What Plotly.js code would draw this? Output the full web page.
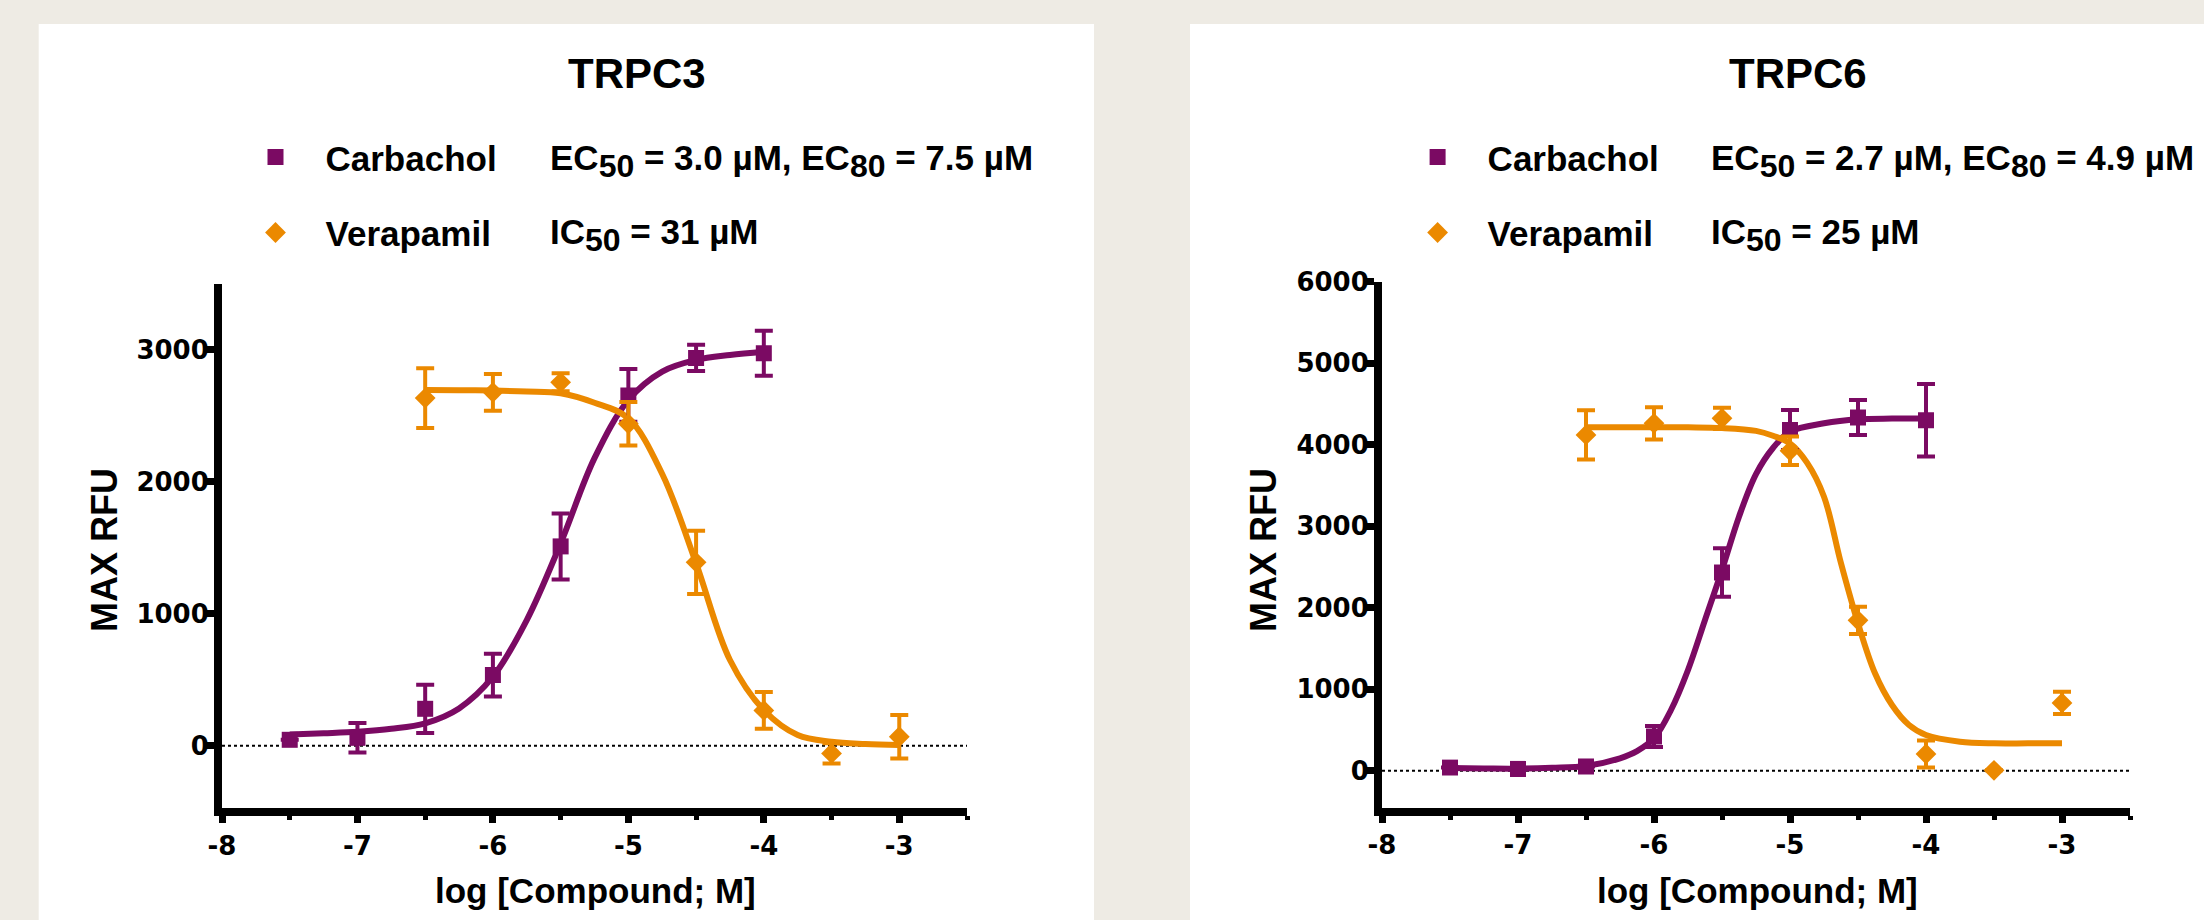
<!DOCTYPE html>
<html><head><meta charset="utf-8">
<script src="https://cdn.plot.ly/plotly-3.0.1.min.js"></script>
<style>html,body{margin:0;padding:0;background:#EEEBE4;} #chart{width:2204px;height:920px;}</style>
</head><body><div id="chart"></div>
<script>
// ---------------- DATA ----------------
const doseCarb = [-7.5, -7, -6.5, -6, -5.5, -5, -4.5, -4];
const doseVera = [-6.5, -6, -5.5, -5, -4.5, -4, -3.5, -3];

// TRPC3
const trpc3Carb    = [45, 60, 280, 536, 1511, 2655, 2940, 2975];
const trpc3CarbErr = [null, 112, 183, 162, 250, 200, 100, 170];
const trpc3Vera    = [2635, 2679, 2755, 2440, 1390, 268, -58, 68];
const trpc3VeraErr = [227, 139, 68, 165, 240, 139, 76, 165];

// TRPC3 fitted curves
const trpc3CarbFitX = [-7.5, -7.25, -7, -6.75, -6.5, -6.25, -6, -5.75, -5.5, -5.25, -5, -4.75, -4.5, -4.25, -4];
const trpc3CarbFitY = [86, 95, 106, 128, 170, 283, 523, 953, 1534, 2180, 2620, 2836, 2924, 2962, 2987];
const trpc3VeraFitX = [-6.5, -6.25, -6, -5.75, -5.5, -5.25, -5, -4.75, -4.5, -4.25, -4, -3.75, -3.5, -3.25, -3];
const trpc3VeraFitY = [2697, 2695, 2692, 2685, 2672, 2600, 2482, 2060, 1383, 650, 270, 81, 30, 13, 5];

// TRPC6
const trpc6Carb    = [38, 22, 52, 420, 2432, 4180, 4334, 4300];
const trpc6CarbErr = [null, null, null, 130, 297, 245, 215, 446];
const trpc6Vera    = [4120, 4262, 4324, 3925, 1845, 205, 5, 832];
const trpc6VeraErr = [302, 197, 130, 175, 168, 165, null, 137];

// TRPC6 fitted curves
const trpc6CarbFitX = [-7.5, -7.25, -7, -6.75, -6.5, -6.25, -6.125, -6, -5.875, -5.75, -5.625, -5.5, -5.375, -5.25, -5.125, -5, -4.75, -4.5, -4.25, -4];
const trpc6CarbFitY = [33, 28, 25, 35, 58, 152, 240, 397, 745, 1236, 1849, 2463, 3117, 3640, 3960, 4160, 4263, 4312, 4320, 4320];
const trpc6VeraFitX = [-6.5, -6.25, -6, -5.75, -5.5, -5.25, -5.125, -5, -4.875, -4.75, -4.625, -4.5, -4.375, -4.25, -4.125, -4, -3.75, -3.5, -3.25, -3];
const trpc6VeraFitY = [4215, 4215, 4215, 4213, 4205, 4170, 4110, 4017, 3780, 3362, 2545, 1808, 1195, 806, 561, 438, 356, 336, 336, 336];

// Axis ticks
const xTickVals = [-8, -7, -6, -5, -4, -3];
const xTickText = ['-8', '-7', '-6', '-5', '-4', '-3'];
const xMinorVals = [-7.5, -6.5, -5.5, -4.5, -3.5, -2.5];
const y3TickVals = [0, 1000, 2000, 3000];
const y3TickText = ['0', '1000', '2000', '3000'];
const y6TickVals = [0, 1000, 2000, 3000, 4000, 5000, 6000];
const y6TickText = ['0', '1000', '2000', '3000', '4000', '5000', '6000'];

// Texts
const titles = ['TRPC3', 'TRPC6'];
const seriesNames = ['Carbachol', 'Verapamil'];
const SUB = t => '<sub><span style="font-size:32px">' + t + '</span></sub>';
const potency3 = ['EC' + SUB('50') + ' = 3.0 µM, EC' + SUB('80') + ' = 7.5 µM', 'IC' + SUB('50') + ' = 31 µM'];
const potency6 = ['EC' + SUB('50') + ' = 2.7 µM, EC' + SUB('80') + ' = 4.9 µM', 'IC' + SUB('50') + ' = 25 µM'];
const xTitle = 'log [Compound; M]';
const yTitle = 'MAX RFU';

// ---------------- STYLE ----------------
const W = 2204, H = 920;
const PURPLE = '#7B0A63', ORANGE = '#EB8900';
const px = v => v / W, py = v => 1 - v / H;
const FONT = 'Liberation Sans, Arial, Helvetica, sans-serif';
const TICKFONT = {family: 'DejaVu Sans, Verdana, sans-serif', size: 26, color: '#000', weight: 'bold'};

function curve(x, y, color, xa, ya) {
  return {x: x, y: y, xaxis: xa, yaxis: ya, type: 'scatter', mode: 'lines',
          line: {color: color, width: 6, shape: 'spline', smoothing: 1},
          showlegend: false, hoverinfo: 'skip'};
}
function pts(x, y, err, color, symbol, name, xa, ya, leg, grp) {
  return {x: x, y: y, xaxis: xa, yaxis: ya, type: 'scatter', mode: 'markers', name: name,
          marker: {symbol: symbol, size: 16, color: color, line: {width: 0}},
          error_y: {type: 'data', array: err, visible: true, thickness: 4, width: 9, color: color},
          legend: leg, legendgroup: grp, showlegend: true};
}

const data = [
  curve(trpc3CarbFitX, trpc3CarbFitY, PURPLE, 'x', 'y'),
  curve(trpc3VeraFitX, trpc3VeraFitY, ORANGE, 'x', 'y'),
  pts(doseCarb, trpc3Carb, trpc3CarbErr, PURPLE, 'square', seriesNames[0], 'x', 'y', 'legend', 'a'),
  pts(doseVera, trpc3Vera, trpc3VeraErr, ORANGE, 'diamond', seriesNames[1], 'x', 'y', 'legend', 'b'),
  curve(trpc6CarbFitX, trpc6CarbFitY, PURPLE, 'x2', 'y2'),
  curve(trpc6VeraFitX, trpc6VeraFitY, ORANGE, 'x2', 'y2'),
  pts(doseCarb, trpc6Carb, trpc6CarbErr, PURPLE, 'square', seriesNames[0], 'x2', 'y2', 'legend2', 'c'),
  pts(doseVera, trpc6Vera, trpc6VeraErr, ORANGE, 'diamond', seriesNames[1], 'x2', 'y2', 'legend2', 'd')
];

const axX = {range: [-8, -2.5], showgrid: false, zeroline: false, showline: true, linewidth: 8, linecolor: '#000',
  ticks: 'outside', ticklen: 7, tickwidth: 7, tickcolor: '#000', tickmode: 'array',
  tickvals: xTickVals, ticktext: xTickText, tickfont: TICKFONT,
  minor: {tickmode: 'array', tickvals: xMinorVals, ticks: 'outside', ticklen: 4, tickwidth: 5, tickcolor: '#000'},
  fixedrange: true};
const axY = {showgrid: false, zeroline: false, showline: true, linewidth: 8, linecolor: '#000',
  ticks: 'outside', ticklen: 8, tickwidth: 7, tickcolor: '#000', tickmode: 'array', tickfont: TICKFONT,
  ticklabelstandoff: -8, fixedrange: true};

const legBase = {orientation: 'v', xanchor: 'left', yanchor: 'top', bgcolor: 'rgba(0,0,0,0)', borderwidth: 0,
  font: {family: FONT, size: 35, color: '#000', weight: 'bold'}, itemwidth: 90, traceorder: 'grouped',
  tracegroupgap: 27, itemclick: false, itemdoubleclick: false};

const txt = (t, x, y, size, extra) => Object.assign({text: t, xref: 'paper', yref: 'paper', x: px(x), y: py(y),
  showarrow: false, font: {family: FONT, size: size, color: '#000', weight: 'bold'}}, extra || {});

const layout = {
  width: W, height: H, margin: {l: 0, r: 0, t: 0, b: 0, pad: 0},
  paper_bgcolor: '#EEEBE4', plot_bgcolor: 'rgba(0,0,0,0)',
  font: {family: FONT, color: '#000'},
  showlegend: true,
  xaxis: Object.assign({}, axX, {domain: [px(222), px(967)], anchor: 'y'}),
  yaxis: Object.assign({}, axY, {domain: [1 - 808.4 / H, 1 - 284 / H], anchor: 'x', range: [-475, 3500],
    tickvals: y3TickVals, ticktext: y3TickText}),
  xaxis2: Object.assign({}, axX, {domain: [px(1382), px(2130)], anchor: 'y2'}),
  yaxis2: Object.assign({}, axY, {domain: [1 - 807.8 / H, 1 - 281.7 / H], anchor: 'x2', range: [-455, 6000],
    tickvals: y6TickVals, ticktext: y6TickText}),
  legend: Object.assign({}, legBase, {x: px(225.5), y: py(127.75)}),
  legend2: Object.assign({}, legBase, {x: px(1387.6), y: py(127.75)}),
  shapes: [
    {type: 'rect', xref: 'paper', yref: 'paper', x0: px(38.7), x1: px(1094), y0: 0, y1: py(24),
     fillcolor: '#FFFFFF', line: {width: 0}, layer: 'below'},
    {type: 'rect', xref: 'paper', yref: 'paper', x0: px(1190), x1: 1, y0: 0, y1: py(24),
     fillcolor: '#FFFFFF', line: {width: 0}, layer: 'below'},
    {type: 'line', xref: 'x domain', yref: 'y', x0: 0, x1: 1, y0: 0, y1: 0,
     line: {color: '#000', width: 2, dash: 'dot'}, layer: 'below'},
    {type: 'line', xref: 'x2 domain', yref: 'y2', x0: 0, x1: 1, y0: 0, y1: 0,
     line: {color: '#000', width: 2, dash: 'dot'}, layer: 'below'}
  ],
  annotations: [
    txt(titles[0], 637, 73.5, 42, {xanchor: 'center', yanchor: 'middle'}),
    txt(titles[1], 1797.5, 73.5, 42, {xanchor: 'center', yanchor: 'middle'}),
    txt(potency3[0], 548, 161, 35, {xanchor: 'left', yanchor: 'middle'}),
    txt(potency3[1], 548, 235, 35, {xanchor: 'left', yanchor: 'middle'}),
    txt(potency6[0], 1709, 161, 35, {xanchor: 'left', yanchor: 'middle'}),
    txt(potency6[1], 1709, 235, 35, {xanchor: 'left', yanchor: 'middle'}),
    txt(xTitle, 595.5, 890, 35, {xanchor: 'center', yanchor: 'middle'}),
    txt(xTitle, 1757, 890, 35, {xanchor: 'center', yanchor: 'middle'}),
    txt(yTitle, 104, 550, 36, {xanchor: 'center', yanchor: 'middle', textangle: -90}),
    txt(yTitle, 1263, 550, 36, {xanchor: 'center', yanchor: 'middle', textangle: -90})
  ]
};

Plotly.newPlot('chart', data, layout, {displayModeBar: false, staticPlot: true});
</script>
</body></html>
